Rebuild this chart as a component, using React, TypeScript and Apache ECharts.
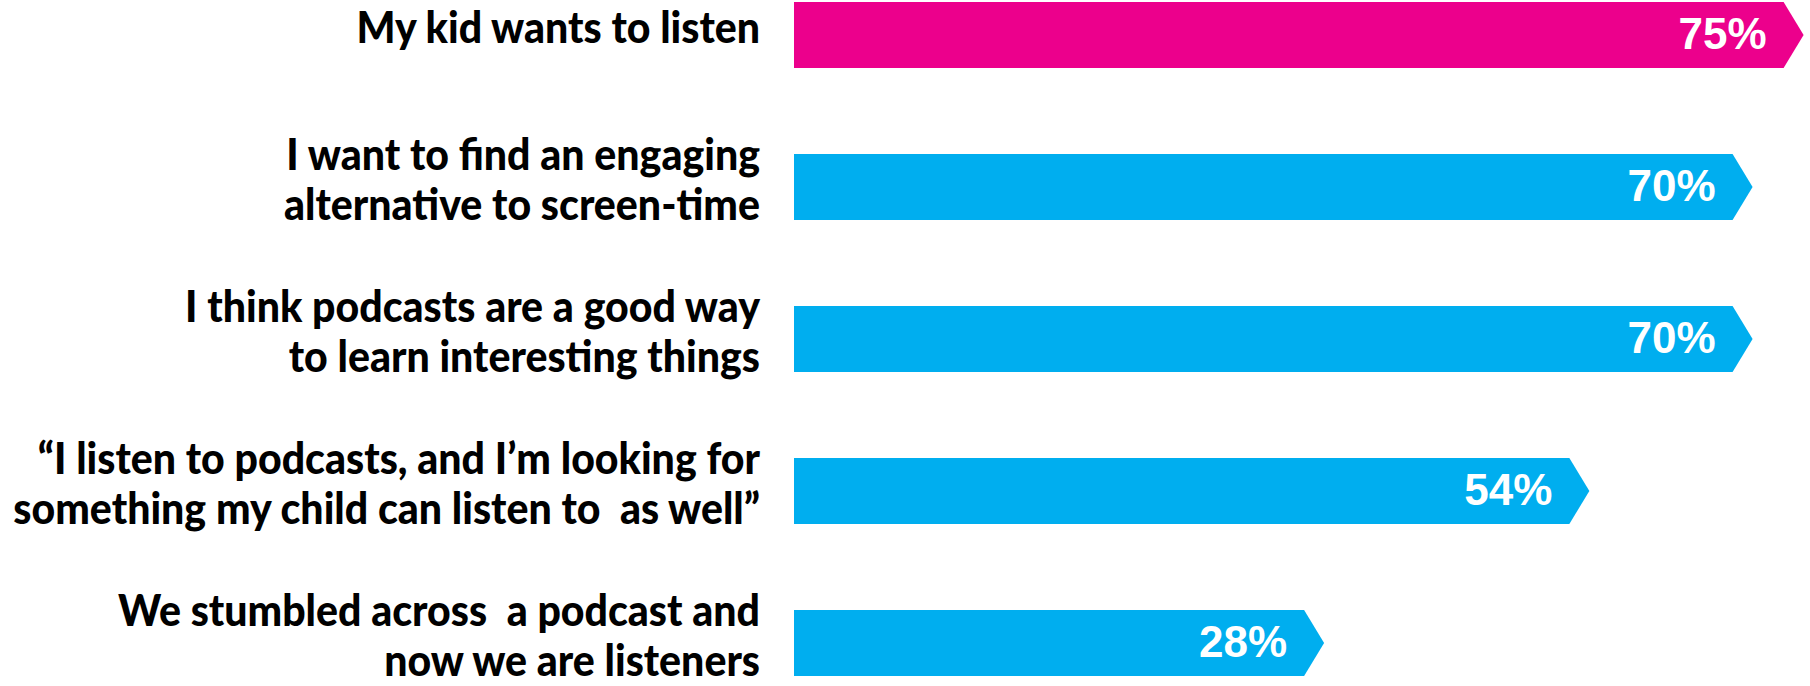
import React, { useEffect, useRef } from "react";
import * as echarts from "echarts";

const categories = [
  "My kid wants to listen",
  "I want to find an engaging\nalternative to screen-time",
  "I think podcasts are a good way\nto learn interesting things",
  "“I listen to podcasts, and I’m looking for\nsomething my child can listen to  as well”",
  "We stumbled across  a podcast and\nnow we are listeners",
];
const values = [75, 70, 70, 54, 28];
const highlightIndex = 0;

const X_MIN = -22;
const X_MAX = 77;
const PINK = "#EC008C";
const BLUE = "#00AEEF";
const LABEL_FONT = "Lato, 'Open Sans', sans-serif";

export default function App() {
  const ref = useRef<HTMLDivElement>(null);
  useEffect(() => {
    if (!ref.current) return;
    const chart = echarts.init(ref.current, undefined, { renderer: "svg" });
    chart.setOption({
      animation: false,
      backgroundColor: "#ffffff",
      grid: { left: 794, right: 6, top: 35, bottom: 43, containLabel: false, outerBoundsMode: "none" },
      xAxis: {
        type: "value",
        min: X_MIN,
        max: X_MAX,
        show: false,
      },
      yAxis: {
        type: "category",
        data: categories,
        inverse: true,
        boundaryGap: false,
        axisLine: { show: false },
        axisTick: { show: false },
        splitLine: { show: false },
        axisLabel: { show: false },
      },
      series: [
        {
          type: "custom",
          coordinateSystem: "cartesian2d",
          encode: { x: 0, y: 1 },
          data: values.map((v, i) => [v, i]),
          renderItem: (params: any, api: any) => {
            const v = api.value(0);
            const idx = api.value(1);
            const start = api.coord([X_MIN, idx]);
            const end = api.coord([v, idx]);
            const band = api.size([0, 1])[1];
            const h = band * 0.434;
            const tip = 20;
            const top = end[1] - h / 2;
            const bottom = end[1] + h / 2;
            const color = params.dataIndex === highlightIndex ? PINK : BLUE;
            return {
              type: "group",
              children: [
                {
                  type: "polygon",
                  shape: {
                    points: [
                      [start[0], top],
                      [end[0], top],
                      [end[0] + tip, end[1]],
                      [end[0], bottom],
                      [start[0], bottom],
                    ],
                  },
                  style: { fill: color },
                },
                {
                  type: "text",
                  style: {
                    text: v + "%",
                    x: end[0] - 17,
                    y: end[1] - 2,
                    align: "right",
                    verticalAlign: "middle",
                    fill: "#ffffff",
                    fontFamily: "'Liberation Sans', Arial, sans-serif",
                    fontWeight: "bold",
                    fontSize: 44,
                  },
                },
                {
                  type: "text",
                  x: start[0] - 34,
                  y: end[1] - 9,
                  scaleX: 0.933,
                  style: {
                    text: categories[params.dataIndex],
                    x: 0,
                    y: 0,
                    align: "right",
                    verticalAlign: "middle",
                    fill: "#000000",
                    fontFamily: LABEL_FONT,
                    fontWeight: 900,
                    fontSize: 44,
                    lineHeight: 50,
                  },
                },
              ],
            };
          },
        },
      ],
    });
    return () => chart.dispose();
  }, []);
  return (
    <div
      ref={ref}
      style={{ position: "fixed", left: 0, top: 0, width: 1810, height: 686, background: "#fff" }}
    />
  );
}
